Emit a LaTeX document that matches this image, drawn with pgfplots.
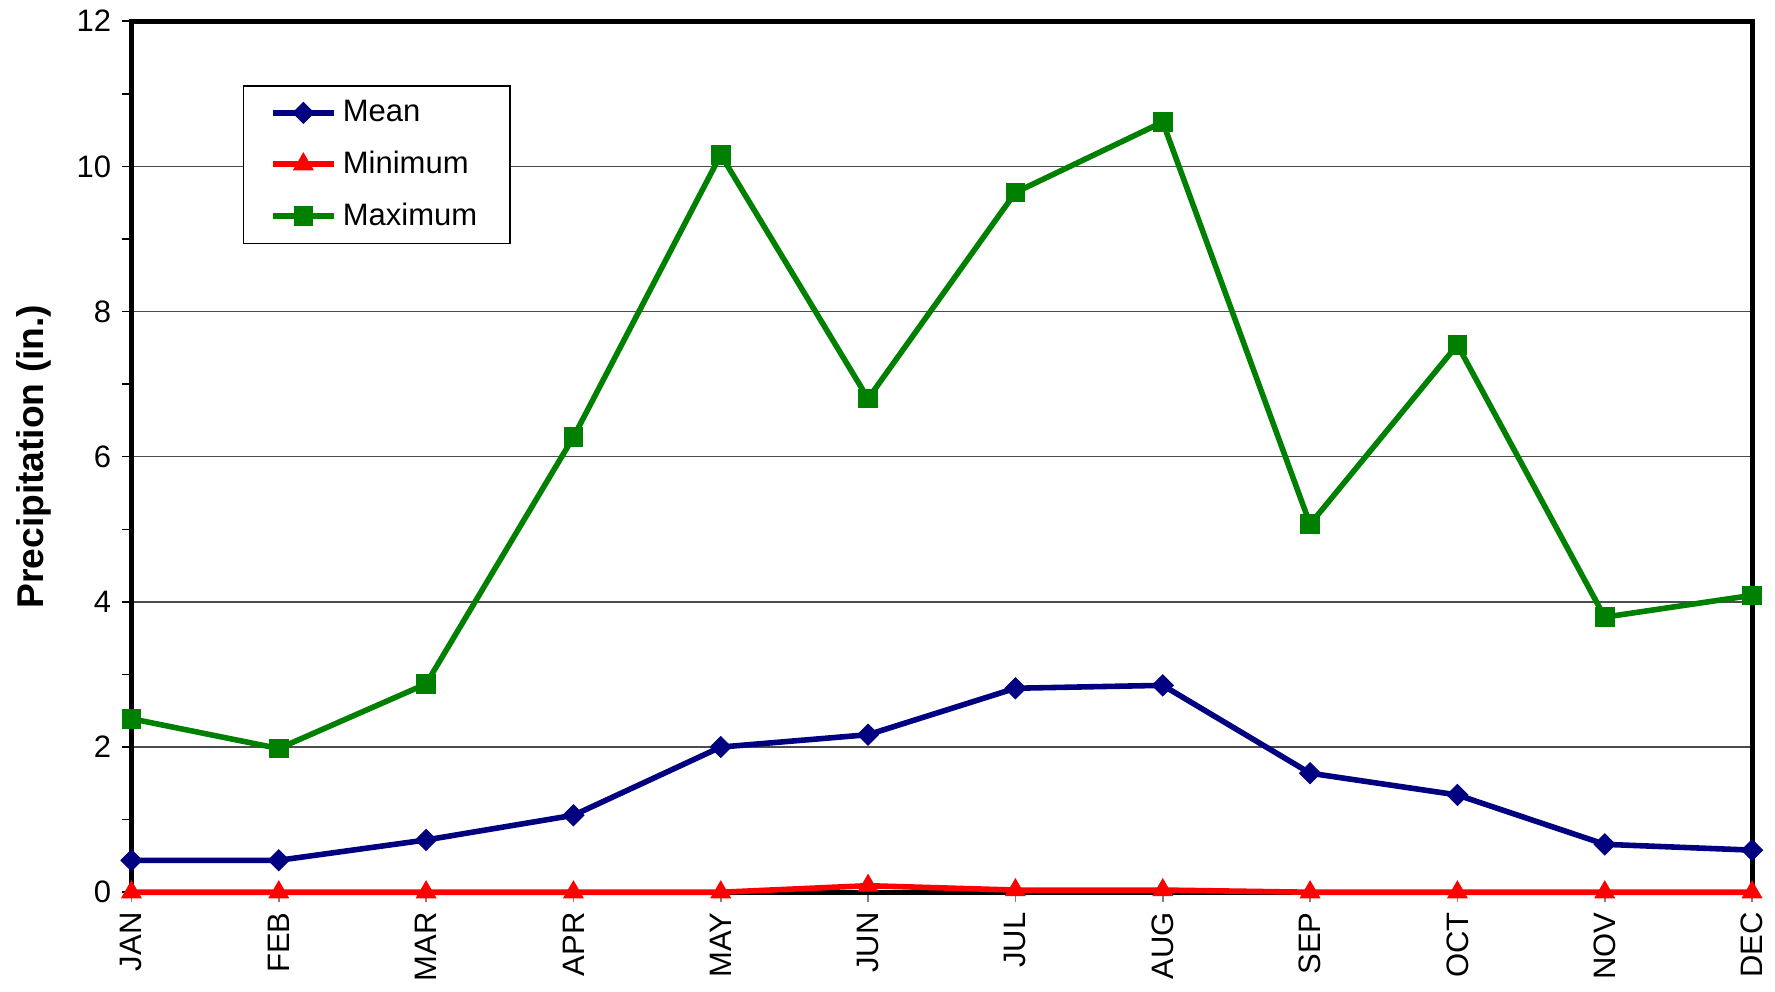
\documentclass[border=0pt]{standalone}
\usepackage{pgfplots}
\pgfplotsset{compat=1.18}
\usepackage{fontspec}
\setmainfont{Liberation Sans}
\definecolor{meancol}{RGB}{0,0,128}
\definecolor{mincol}{RGB}{255,0,0}
\definecolor{maxcol}{RGB}{0,128,0}
\begin{document}
\begin{tikzpicture}
\begin{axis}[
  scale only axis,
  width=522.8pt, height=281pt,
  xmin=0, xmax=11, ymin=0, ymax=12,
  clip=false,
  axis line style={black, line width=1.6pt},
  xtick={0,...,11},
  xticklabels={JAN,FEB,MAR,APR,MAY,JUN,JUL,AUG,SEP,OCT,NOV,DEC},
  xticklabel style={rotate=90, anchor=east, font=\fontsize{10}{12}\selectfont},
  ytick={0,2,...,12},
  minor y tick num=1,
  yticklabel style={font=\fontsize{10}{12}\selectfont},
  /pgf/number format/assume math mode=true,
  tick align=outside,
  major tick length=3pt, minor tick length=3pt,
  tick style={black, line width=0.5pt},
  x tick style={gray, line width=0.5pt},
  xtick pos=bottom, ytick pos=left,
  ymajorgrids,
  major grid style={black!70, line width=0.5pt},
  ylabel={Precipitation (in.)},
  every axis y label/.style={at={(axis description cs:-0.0599,0.5)}, rotate=90, anchor=center,
    font=\fontsize{12}{14}\selectfont\bfseries},
  legend style={at={(0.0688,0.9265)}, anchor=north west, draw=black, line width=0.5pt,
    inner xsep=8.5pt, inner ysep=2.5pt, row sep=4pt,
    font=\fontsize{10}{12}\selectfont, cells={anchor=west}},
  legend image code/.code={
    \draw[mark repeat=2, mark phase=2, #1] plot coordinates {(0pt,0pt) (9.85pt,0pt) (19.7pt,0pt)};
  },
]
\addplot[meancol, line width=1.8pt, mark=square*, mark size=2.4pt, mark options={solid, fill=meancol, line width=0.3pt, rotate=45}]
  coordinates {(0,0.44) (1,0.44) (2,0.72) (3,1.06) (4,2.00) (5,2.17) (6,2.81) (7,2.85) (8,1.64) (9,1.34) (10,0.66) (11,0.58)};
\addlegendentry{Mean}
\addplot[mincol, line width=1.8pt, mark=triangle*, mark size=3.6pt, mark options={solid, fill=mincol, line width=0.3pt}]
  coordinates {(0,0) (1,0) (2,0) (3,0) (4,0) (5,0.09) (6,0.03) (7,0.03) (8,0) (9,0) (10,0) (11,0)};
\addlegendentry{Minimum}
\addplot[maxcol, line width=1.8pt, mark=square*, mark size=3.0pt, mark options={solid, fill=maxcol, line width=0.3pt}]
  coordinates {(0,2.39) (1,1.98) (2,2.87) (3,6.27) (4,10.16) (5,6.80) (6,9.64) (7,10.61) (8,5.07) (9,7.54) (10,3.79) (11,4.09)};
\addlegendentry{Maximum}
\end{axis}
\path (-42.4pt,-31.6pt) rectangle (530.2pt,287.4pt);
\end{tikzpicture}
\end{document}
